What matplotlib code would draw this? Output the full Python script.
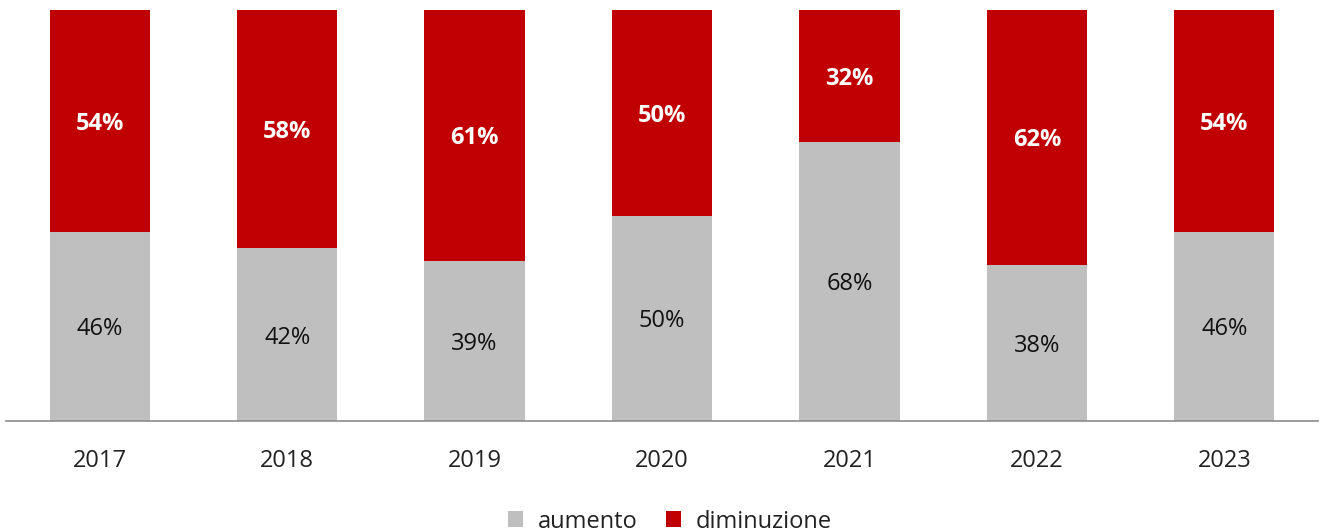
import matplotlib.pyplot as plt
import numpy as np

anni = ["2017", "2018", "2019", "2020", "2021", "2022", "2023"]
aumento = [46, 42, 39, 50, 68, 38, 46]
diminuzione = [54, 58, 61, 50, 32, 62, 54]

grigio = "#BFBFBF"
rosso = "#C00000"

plt.rcParams['font.family'] = ['Open Sans', 'DejaVu Sans']

fig = plt.figure(figsize=(13.21, 5.31), dpi=100)
ax = fig.add_axes([6 / 1321, 110 / 531, 1312 / 1321, 411 / 531])

x = np.arange(len(anni))
larghezza = 0.535
b1 = ax.bar(x, aumento, larghezza, color=grigio, label="aumento")
b2 = ax.bar(x, diminuzione, larghezza, bottom=aumento, color=rosso, label="diminuzione")

# etichette percentuali al centro di ogni segmento
for i in range(len(anni)):
    ax.text(x[i], aumento[i] / 2, f"{aumento[i]}%", ha="center", va="center_baseline",
            fontsize=17, fontweight="medium", color="#111111")
    ax.text(x[i], aumento[i] + diminuzione[i] / 2, f"{diminuzione[i]}%", ha="center",
            va="center_baseline", fontsize=17, fontweight="bold", color="white")

ax.set_xlim(-0.5, len(anni) - 0.5)
ax.set_ylim(0, 100)
ax.set_xticks(x)
ax.set_xticklabels(anni, fontsize=17, color="#222222")
ax.tick_params(axis="x", length=0, pad=20)
ax.set_yticks([])
for lato in ["top", "right", "left"]:
    ax.spines[lato].set_visible(False)
ax.spines["bottom"].set_color("#8c8c8c")
ax.spines["bottom"].set_linewidth(1.2)

fig.legend(handles=[b1, b2], loc="lower center", bbox_to_anchor=(0.507, -0.045), ncol=2,
           frameon=False, fontsize=17, handlelength=0.65, handleheight=0.65,
           handletextpad=0.6, columnspacing=1.2, labelcolor="#222222")

fig.savefig("out.png", dpi=100)
